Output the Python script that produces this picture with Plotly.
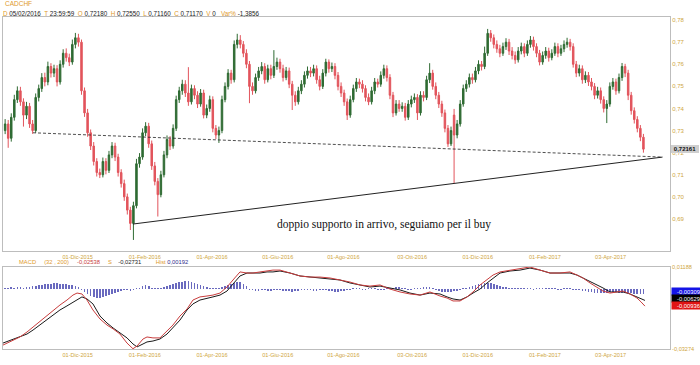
import plotly.graph_objects as go

# ---------------- DATA (CADCHF, 2-trading-day candles, x = trading-day index from 01-Oct-2015) -------------
closes = [
    0.7330, 0.7265, 0.7360, 0.7440, 0.7480, 0.7430, 0.7370, 0.7410, 0.7330, 0.7300,
    0.7450, 0.7490, 0.7540, 0.7520, 0.7590, 0.7560, 0.7580, 0.7520, 0.7600, 0.7650,
    0.7630, 0.7610, 0.7690, 0.7720, 0.7700, 0.7480, 0.7380, 0.7290, 0.7230, 0.7160,
    0.7110, 0.7100, 0.7160, 0.7120, 0.7190, 0.7230, 0.7180, 0.7110, 0.7060, 0.7000,
    0.6940, 0.6880, 0.6960, 0.7150, 0.7180, 0.7290, 0.7320, 0.7240, 0.7140, 0.7070,
    0.7010, 0.7100, 0.7190, 0.7260, 0.7230, 0.7310, 0.7440, 0.7480, 0.7510, 0.7470,
    0.7430, 0.7490, 0.7460, 0.7420, 0.7470, 0.7370, 0.7400, 0.7440, 0.7310, 0.7280,
    0.7300, 0.7440, 0.7500, 0.7560, 0.7530, 0.7690, 0.7710, 0.7690, 0.7650, 0.7600,
    0.7500, 0.7480, 0.7540, 0.7570, 0.7590, 0.7530, 0.7580, 0.7550, 0.7590, 0.7610,
    0.7580, 0.7540, 0.7570, 0.7510, 0.7460, 0.7430, 0.7480, 0.7510, 0.7550, 0.7570,
    0.7560, 0.7580, 0.7530, 0.7500, 0.7560, 0.7610, 0.7580, 0.7590, 0.7550, 0.7500,
    0.7470, 0.7430, 0.7370, 0.7440, 0.7490, 0.7520, 0.7510, 0.7490, 0.7450, 0.7430,
    0.7480, 0.7520, 0.7510, 0.7550, 0.7580, 0.7540, 0.7460, 0.7380, 0.7420, 0.7400,
    0.7410, 0.7360, 0.7420, 0.7440, 0.7450, 0.7380, 0.7460, 0.7450, 0.7530, 0.7560,
    0.7500, 0.7460, 0.7420, 0.7380, 0.7310, 0.7240, 0.7300, 0.7280, 0.7330, 0.7420,
    0.7490, 0.7510, 0.7540, 0.7530, 0.7570, 0.7600, 0.7590, 0.7650, 0.7740, 0.7720,
    0.7690, 0.7670, 0.7650, 0.7680, 0.7700, 0.7660, 0.7640, 0.7620, 0.7660, 0.7680,
    0.7650, 0.7690, 0.7710, 0.7680, 0.7650, 0.7610, 0.7640, 0.7660, 0.7630, 0.7650,
    0.7680, 0.7650, 0.7670, 0.7690, 0.7700, 0.7680, 0.7600, 0.7560, 0.7580, 0.7530,
    0.7550, 0.7520, 0.7500, 0.7460, 0.7480, 0.7440, 0.7400, 0.7420, 0.7500, 0.7520,
    0.7480, 0.7540, 0.7590, 0.7560, 0.7460, 0.7390, 0.7350, 0.7310, 0.7270, 0.7216,
]
opens = [
    0.7300, 0.7330, 0.7265, 0.7360, 0.7440, 0.7480, 0.7430, 0.7370, 0.7410, 0.7330,
    0.7300, 0.7450, 0.7490, 0.7540, 0.7520, 0.7590, 0.7560, 0.7580, 0.7520, 0.7600,
    0.7650, 0.7630, 0.7610, 0.7690, 0.7720, 0.7700, 0.7480, 0.7380, 0.7290, 0.7230,
    0.7160, 0.7110, 0.7100, 0.7160, 0.7120, 0.7190, 0.7230, 0.7180, 0.7110, 0.7060,
    0.7000, 0.6940, 0.6880, 0.6960, 0.7150, 0.7180, 0.7290, 0.7320, 0.7240, 0.7140,
    0.7070, 0.7010, 0.7100, 0.7190, 0.7260, 0.7230, 0.7310, 0.7440, 0.7480, 0.7510,
    0.7470, 0.7430, 0.7490, 0.7460, 0.7420, 0.7470, 0.7370, 0.7400, 0.7440, 0.7310,
    0.7280, 0.7300, 0.7440, 0.7500, 0.7560, 0.7530, 0.7690, 0.7710, 0.7690, 0.7650,
    0.7600, 0.7500, 0.7480, 0.7540, 0.7570, 0.7590, 0.7530, 0.7580, 0.7550, 0.7590,
    0.7610, 0.7580, 0.7540, 0.7570, 0.7510, 0.7460, 0.7430, 0.7480, 0.7510, 0.7550,
    0.7570, 0.7560, 0.7580, 0.7530, 0.7500, 0.7560, 0.7610, 0.7580, 0.7590, 0.7550,
    0.7500, 0.7470, 0.7430, 0.7370, 0.7440, 0.7490, 0.7520, 0.7510, 0.7490, 0.7450,
    0.7430, 0.7480, 0.7520, 0.7510, 0.7550, 0.7580, 0.7540, 0.7460, 0.7380, 0.7420,
    0.7400, 0.7410, 0.7360, 0.7420, 0.7440, 0.7450, 0.7380, 0.7460, 0.7450, 0.7530,
    0.7560, 0.7500, 0.7460, 0.7420, 0.7380, 0.7310, 0.7240, 0.7370, 0.7280, 0.7330,
    0.7420, 0.7490, 0.7510, 0.7540, 0.7530, 0.7570, 0.7600, 0.7590, 0.7650, 0.7740,
    0.7720, 0.7690, 0.7670, 0.7650, 0.7680, 0.7700, 0.7660, 0.7640, 0.7620, 0.7660,
    0.7680, 0.7650, 0.7690, 0.7710, 0.7680, 0.7650, 0.7610, 0.7640, 0.7660, 0.7630,
    0.7650, 0.7680, 0.7650, 0.7670, 0.7690, 0.7700, 0.7680, 0.7600, 0.7560, 0.7580,
    0.7530, 0.7550, 0.7520, 0.7500, 0.7460, 0.7480, 0.7440, 0.7400, 0.7420, 0.7500,
    0.7520, 0.7480, 0.7540, 0.7590, 0.7560, 0.7460, 0.7390, 0.7350, 0.7310, 0.7270,
]
highs = [
    0.7352, 0.7348, 0.7378, 0.7462, 0.7500, 0.7498, 0.7446, 0.7430, 0.7425, 0.7348,
    0.7468, 0.7508, 0.7560, 0.7562, 0.7612, 0.7605, 0.7598, 0.7596, 0.7618, 0.7668,
    0.7672, 0.7648, 0.7712, 0.7742, 0.7738, 0.7712, 0.7495, 0.7398, 0.7305, 0.7248,
    0.7175, 0.7128, 0.7178, 0.7175, 0.7208, 0.7248, 0.7245, 0.7195, 0.7125, 0.7078,
    0.7015, 0.6955, 0.6978, 0.7172, 0.7198, 0.7310, 0.7338, 0.7335, 0.7255, 0.7158,
    0.7085, 0.7118, 0.7208, 0.7278, 0.7275, 0.7328, 0.7458, 0.7498, 0.7530, 0.7528,
    0.7587, 0.7508, 0.7505, 0.7478, 0.7488, 0.7485, 0.7418, 0.7458, 0.7455, 0.7325,
    0.7318, 0.7458, 0.7518, 0.7578, 0.7575, 0.7708, 0.7738, 0.7732, 0.7705, 0.7668,
    0.7615, 0.7518, 0.7558, 0.7588, 0.7610, 0.7605, 0.7598, 0.7598, 0.7664, 0.7630,
    0.7625, 0.7598, 0.7588, 0.7585, 0.7525, 0.7478, 0.7498, 0.7528, 0.7568, 0.7590,
    0.7588, 0.7598, 0.7595, 0.7548, 0.7578, 0.7625, 0.7622, 0.7608, 0.7605, 0.7565,
    0.7518, 0.7485, 0.7445, 0.7458, 0.7508, 0.7538, 0.7535, 0.7528, 0.7505, 0.7468,
    0.7498, 0.7538, 0.7535, 0.7568, 0.7598, 0.7595, 0.7555, 0.7475, 0.7438, 0.7438,
    0.7428, 0.7425, 0.7438, 0.7458, 0.7468, 0.7465, 0.7478, 0.7478, 0.7548, 0.7605,
    0.7575, 0.7518, 0.7475, 0.7435, 0.7395, 0.7325, 0.7318, 0.7398, 0.7348, 0.7438,
    0.7508, 0.7528, 0.7558, 0.7558, 0.7588, 0.7618, 0.7615, 0.7680, 0.7760, 0.7755,
    0.7735, 0.7708, 0.7688, 0.7698, 0.7718, 0.7715, 0.7678, 0.7658, 0.7678, 0.7698,
    0.7695, 0.7708, 0.7728, 0.7725, 0.7695, 0.7665, 0.7658, 0.7678, 0.7675, 0.7668,
    0.7698, 0.7695, 0.7688, 0.7708, 0.7720, 0.7715, 0.7695, 0.7615, 0.7598, 0.7595,
    0.7568, 0.7565, 0.7538, 0.7515, 0.7498, 0.7495, 0.7455, 0.7438, 0.7518, 0.7538,
    0.7535, 0.7558, 0.7606, 0.7602, 0.7575, 0.7475, 0.7405, 0.7365, 0.7325, 0.7285,
]
lows = [
    0.7284, 0.7222, 0.7250, 0.7345, 0.7425, 0.7412, 0.7318, 0.7352, 0.7312, 0.7285,
    0.7290, 0.7432, 0.7475, 0.7500, 0.7505, 0.7540, 0.7542, 0.7500, 0.7508, 0.7585,
    0.7612, 0.7592, 0.7598, 0.7672, 0.7680, 0.7462, 0.7362, 0.7272, 0.7212, 0.7142,
    0.7092, 0.7085, 0.7088, 0.7102, 0.7108, 0.7175, 0.7162, 0.7092, 0.7042, 0.6982,
    0.6920, 0.6850, 0.6805, 0.6948, 0.7132, 0.7168, 0.7275, 0.7222, 0.7122, 0.7052,
    0.6911, 0.6998, 0.7088, 0.7175, 0.7212, 0.7218, 0.7298, 0.7425, 0.7462, 0.7452,
    0.7412, 0.7418, 0.7442, 0.7402, 0.7408, 0.7355, 0.7356, 0.7385, 0.7292, 0.7262,
    0.7244, 0.7288, 0.7428, 0.7486, 0.7512, 0.7518, 0.7672, 0.7672, 0.7632, 0.7582,
    0.7424, 0.7462, 0.7468, 0.7525, 0.7555, 0.7512, 0.7518, 0.7532, 0.7538, 0.7575,
    0.7562, 0.7522, 0.7528, 0.7492, 0.7393, 0.7412, 0.7418, 0.7465, 0.7495, 0.7535,
    0.7542, 0.7545, 0.7512, 0.7482, 0.7488, 0.7545, 0.7562, 0.7565, 0.7532, 0.7482,
    0.7452, 0.7412, 0.7348, 0.7358, 0.7428, 0.7475, 0.7492, 0.7472, 0.7432, 0.7415,
    0.7418, 0.7465, 0.7495, 0.7498, 0.7535, 0.7522, 0.7442, 0.7361, 0.7368, 0.7385,
    0.7385, 0.7345, 0.7348, 0.7405, 0.7425, 0.7348, 0.7368, 0.7432, 0.7438, 0.7515,
    0.7485, 0.7442, 0.7402, 0.7362, 0.7292, 0.7226, 0.7230, 0.7062, 0.7265, 0.7318,
    0.7408, 0.7475, 0.7495, 0.7512, 0.7518, 0.7555, 0.7572, 0.7578, 0.7638, 0.7702,
    0.7672, 0.7652, 0.7632, 0.7638, 0.7665, 0.7642, 0.7622, 0.7602, 0.7608, 0.7645,
    0.7632, 0.7638, 0.7675, 0.7662, 0.7632, 0.7595, 0.7598, 0.7625, 0.7612, 0.7618,
    0.7638, 0.7632, 0.7638, 0.7655, 0.7675, 0.7662, 0.7585, 0.7542, 0.7545, 0.7512,
    0.7515, 0.7502, 0.7482, 0.7442, 0.7445, 0.7422, 0.7382, 0.7334, 0.7408, 0.7485,
    0.7462, 0.7468, 0.7525, 0.7542, 0.7438, 0.7372, 0.7332, 0.7292, 0.7252, 0.7200,
]

# MACD histogram, one bar per candle
hist = [
    0.0005, 0.0005, 0.0011, 0.0005, 0.0011, 0.0011, 0.0005, 0.0011,
    0.0011, 0.0016, 0.0016, 0.0022, 0.0022, 0.0027, 0.0027, 0.0027, 0.0033, 0.0033,
    0.0027, 0.0027, 0.0027, 0.0022, 0.0022, 0.0016, 0.0011,
    -0.0005, -0.0016, -0.0027, -0.0038, -0.0044, -0.0049, -0.0049, -0.0044, -0.0038,
    -0.0033, -0.0027, -0.0022, -0.0016,
    -0.0011, -0.0005, -0.0005, -0.0011, -0.0005, 0.0003, 0.0005,
    0.0016, 0.0022, 0.0016,
    0.0005, 0.0003, 0.0005, 0.0005, 0.0011,
    0.0016, 0.0022, 0.0027, 0.0033, 0.0038, 0.0038, 0.0044, 0.0044, 0.0038, 0.0033,
    0.0027, 0.0022, 0.0016, 0.0011,
    0.0005, 0.0005, 0.0003, 0.0005, 0.0011, 0.0016,
    0.0022, 0.0027, 0.0033, 0.0038, 0.0038, 0.0027, 0.0016,
    -0.0005, -0.0005, -0.0011, -0.0011, -0.0005, -0.0005, -0.0011, -0.0011, -0.0005, -0.0005,
    -0.0005, -0.0011, -0.0011, -0.0011, -0.0016, -0.0011, -0.0011, -0.0005, -0.0005, -0.0005,
    -0.0005, -0.0011, -0.0011, -0.0005, -0.0005, -0.0005, -0.0011, -0.0011, -0.0016, -0.0016,
    -0.0011, -0.0011, -0.0005, -0.0005,
    0.0005, 0.0005, 0.0003, -0.0005, -0.0005, 0.0005, 0.0005, 0.0003, -0.0005, -0.0005,
    -0.0005, 0.0003, 0.0005, 0.0005, 0.0011, 0.0011, 0.0005, 0.0003, -0.0005, -0.0005,
    0.0003, 0.0005, 0.0005, 0.0011, 0.0011,
    0.0011, 0.0005,
    -0.0005, -0.0011, -0.0016, -0.0016, -0.0016, -0.0016, -0.0011, -0.0011, -0.0005, 0.0003,
    0.0005, 0.0011, 0.0016, 0.0022, 0.0027, 0.0027, 0.0033, 0.0033, 0.0033, 0.0027,
    0.0022, 0.0016, 0.0011, 0.0011, 0.0005, 0.0005,
    0.0005, 0.0003, 0.0005, 0.0005, 0.0003, 0.0003, -0.0005, 0.0003, 0.0005, 0.0005,
    0.0003, 0.0003, 0.0005, 0.0003, -0.0005, -0.0005, 0.0003, 0.0005, 0.0003, -0.0005,
    -0.0005, -0.0005, -0.0011,
    -0.0011, -0.0016, -0.0016, -0.0022, -0.0022, -0.0022, -0.0022, -0.0022, -0.0016, -0.0016,
    -0.0016, -0.0022, -0.0022, -0.0022, -0.0022, -0.0022, -0.0027, -0.0027, -0.0027, -0.0027,
]

# MACD lines (trading-day index, value)
macd_x = [
    -5.9, 0.0, 5.2, 9.8, 13.8, 18.3, 22.9, 27.5, 31.4, 36.0, 39.9, 42.6, 45.8, 49.1, 53.0,
    57.6, 62.2, 66.2, 70.7, 75.3, 79.2, 81.9, 85.8, 88.4, 92.3, 96.9, 101.5, 105.4, 110.0,
    114.6, 118.5, 123.1, 127.7, 131.6, 136.2, 140.8, 144.7, 149.3, 153.9, 157.8, 162.4,
    167.0, 170.9, 175.5, 182.1, 188.6, 195.2, 201.7, 208.3, 214.8, 221.3, 227.9, 234.4,
    241.0, 247.5, 254.1, 260.6, 267.2, 273.7, 280.3, 284.9, 288.8, 293.4, 298.0, 301.9,
    306.5, 311.1, 315.0, 319.6, 326.1, 332.7, 339.2, 345.8, 352.3, 358.9, 365.4, 370.0,
    373.9, 378.5, 383.1, 387.0, 391.6, 396.2, 400.1, 404.7, 409.3, 411.9, 414.5,
]
macd_black = [
    -0.0295, -0.0278, -0.0262, -0.0246, -0.0224, -0.0197, -0.0170, -0.0142, -0.0115, -0.0093,
    -0.0072, -0.0061, -0.0044, -0.0055, -0.0082, -0.0148, -0.0186, -0.0213, -0.0240, -0.0267,
    -0.0300, -0.0316, -0.0300, -0.0289, -0.0284, -0.0273, -0.0246, -0.0213, -0.0170, -0.0115,
    -0.0082, -0.0061, -0.0050, -0.0044, -0.0034, -0.0012, 0.0026, 0.0070, 0.0086, 0.0086,
    0.0086, 0.0092, 0.0092, 0.0097, 0.0086, 0.0070, 0.0064, 0.0059, 0.0053, 0.0048,
    0.0032, 0.0021, 0.0010, 0.0015, 0.0005, -0.0006, -0.0023, -0.0034, -0.0023, -0.0028,
    -0.0044, -0.0055, -0.0061, -0.0044, -0.0023, -0.0001, 0.0032, 0.0059, 0.0086, 0.0097,
    0.0102, 0.0113, 0.0102, 0.0086, 0.0086, 0.0086, 0.0075, 0.0059, 0.0043, 0.0021,
    0.0005, -0.0017, -0.0017, -0.0017, -0.0028, -0.0044, -0.0055, -0.0063,
]
macd_red = [
    -0.0306, -0.0284, -0.0262, -0.0235, -0.0208, -0.0175, -0.0142, -0.0115, -0.0088, -0.0061,
    -0.0034, -0.0023, -0.0028, -0.0061, -0.0115, -0.0164, -0.0197, -0.0218, -0.0246, -0.0295,
    -0.0326, -0.0311, -0.0273, -0.0262, -0.0267, -0.0267, -0.0229, -0.0197, -0.0148, -0.0110,
    -0.0061, -0.0044, -0.0039, -0.0034, -0.0023, 0.0010, 0.0048, 0.0092, 0.0086, 0.0086,
    0.0092, 0.0097, 0.0102, 0.0102, 0.0086, 0.0070, 0.0064, 0.0064, 0.0059, 0.0048,
    0.0037, 0.0021, 0.0015, 0.0021, -0.0001, -0.0017, -0.0028, -0.0034, -0.0017, -0.0039,
    -0.0050, -0.0066, -0.0066, -0.0044, -0.0017, 0.0021, 0.0053, 0.0075, 0.0092, 0.0102,
    0.0108, 0.0119, 0.0102, 0.0086, 0.0086, 0.0092, 0.0075, 0.0059, 0.0032, 0.0010,
    -0.0012, -0.0023, -0.0017, -0.0012, -0.0028, -0.0050, -0.0071, -0.0094,
]

# support lines drawn on the chart (trading-day index, price)
dashed_support_x = [13.75, 426.0]
dashed_support_y = [0.7290, 0.7180]
solid_support_x = [79.2, 426.0]
solid_support_y = [0.6877, 0.7180]

tick_idx = [0, 43, 87, 131, 174, 217, 262, 305, 349, 392]
tick_text = ["01-Ott-2015", "01-Dic-2015", "01-Feb-2016", "01-Apr-2016", "01-Giu-2016",
             "01-Ago-2016", "03-Ott-2016", "01-Dic-2016", "01-Feb-2017", "03-Apr-2017"]
price_ticks = [0.69, 0.70, 0.71, 0.72, 0.73, 0.74, 0.75, 0.76, 0.77, 0.78]
last_price = 0.72161

# each 2-day candle sits at the middle of its two trading days
candle_x = [-4.5 + 2 * k for k in range(len(closes))]

# ---------------- FIGURE ----------------
W, H = 700, 365
ML, MR, MT, MB = 3, 30, 17, 16


def px_x(px):
    return (px - ML) / (W - ML - MR)


def px_y(py):
    return (H - MB - py) / (H - MT - MB)


GOLD = "#cfa63e"
ORANGE = "#e09a2c"
BORDER = "#bdbdbd"
FONT = "Liberation Sans, Arial, sans-serif"

fig = go.Figure()

fig.add_trace(go.Candlestick(
    x=candle_x, open=opens, high=highs, low=lows, close=closes,
    increasing=dict(line=dict(color="#2f6b33", width=1), fillcolor="#2f6b33"),
    decreasing=dict(line=dict(color="#e2545c", width=1), fillcolor="#e2545c"),
    whiskerwidth=0, xaxis="x", yaxis="y", showlegend=False, hoverinfo="skip",
))
fig.add_trace(go.Scatter(x=dashed_support_x, y=dashed_support_y, mode="lines",
                         line=dict(color="#222222", width=0.8, dash="3px,2px"),
                         xaxis="x", yaxis="y", showlegend=False, hoverinfo="skip"))
fig.add_trace(go.Scatter(x=solid_support_x, y=solid_support_y, mode="lines",
                         line=dict(color="#222222", width=1),
                         xaxis="x", yaxis="y", showlegend=False, hoverinfo="skip"))

fig.add_trace(go.Bar(x=candle_x, y=hist, width=1.1, marker=dict(color="#6a6abf", line=dict(width=0)),
                     xaxis="x2", yaxis="y2", showlegend=False, hoverinfo="skip"))
fig.add_trace(go.Scatter(x=macd_x, y=macd_black, mode="lines", line=dict(color="#1a1a1a", width=1),
                         xaxis="x2", yaxis="y2", showlegend=False, hoverinfo="skip"))
fig.add_trace(go.Scatter(x=macd_x, y=macd_red, mode="lines", line=dict(color="#c83c3c", width=1),
                         xaxis="x2", yaxis="y2", showlegend=False, hoverinfo="skip"))

main_bottom = px_y(251)
macd_top = px_y(267)

axis_common = dict(showgrid=False, zeroline=False, showline=True, mirror=True,
                   linecolor=BORDER, linewidth=1, ticks="")

fig.update_layout(
    width=W, height=H,
    margin=dict(l=ML, r=MR, t=MT, b=MB, autoexpand=False),
    paper_bgcolor="white", plot_bgcolor="white",
    separators=",.",
    font=dict(family=FONT, size=6, color=GOLD),
    showlegend=False,
    bargap=0,
    xaxis=dict(domain=[0, 1], range=[-5.9, 430.9], anchor="y",
               tickvals=tick_idx, ticktext=tick_text, tickfont=dict(size=5.6, color=GOLD),
               rangeslider=dict(visible=False), **axis_common),
    yaxis=dict(domain=[main_bottom, 1], range=[0.6755, 0.7814], side="right", anchor="x",
               tickvals=price_ticks, tickformat=".2f", tickfont=dict(size=6, color=GOLD),
               **axis_common),
    xaxis2=dict(domain=[0, 1], range=[-5.9, 430.9], anchor="y2", matches="x",
                tickvals=tick_idx, ticktext=tick_text, tickfont=dict(size=5.6, color=GOLD),
                **axis_common),
    yaxis2=dict(domain=[0, macd_top], range=[-0.03274, 0.01188], side="right", anchor="x2",
                tickvals=[0.01186, -0.03272], ticktext=["0,01188", "-0,03274"],
                tickfont=dict(size=5.6, color=GOLD), **axis_common),
)


def lab(t):
    return "<span style='color:%s'>%s</span>" % (ORANGE, t)


info = (lab("D") + " 05/02/2016 &nbsp;" + lab("T") + " 23:59:59 &nbsp;" + lab("O") + " 0,72180 &nbsp;"
        + lab("H") + " 0,72550 &nbsp;" + lab("L") + " 0,71160 &nbsp;" + lab("C") + " 0,71170 &nbsp;"
        + lab("V") + " 0 &nbsp;&nbsp;" + lab("Var%") + " -1,3856")

macd_lbl = (lab("MACD") + " &nbsp;&nbsp;&nbsp; " + lab("(32 , 200)") + " &nbsp;&nbsp;&nbsp; "
            + "<span style='color:#c83c3c'>-0,02538</span> &nbsp;&nbsp;&nbsp; " + lab("S")
            + " &nbsp;&nbsp; -0,02731 &nbsp;&nbsp;&nbsp;&nbsp;&nbsp;&nbsp;&nbsp; " + lab("Hist")
            + " <span style='color:#2c2c8c'>0,00192</span>")

annotations = [
    dict(x=px_x(3), y=px_y(4), xref="paper", yref="paper", text="CADCHF", showarrow=False,
         xanchor="left", yanchor="middle", font=dict(family=FONT, size=6.5, color=ORANGE)),
    dict(x=px_x(1), y=px_y(13), xref="paper", yref="paper", text=info, showarrow=False,
         xanchor="left", yanchor="middle", font=dict(family=FONT, size=6.3, color="#222222")),
    dict(x=px_x(384), y=px_y(224), xref="paper", yref="paper",
         text="doppio supporto in arrivo, seguiamo per il buy", showarrow=False,
         xanchor="center", yanchor="middle",
         font=dict(family="Liberation Serif, Times New Roman, serif", size=11.5, color="#111111")),
    dict(x=1.0, y=last_price, xref="paper", yref="y", text="<b>0,72161</b>", showarrow=False,
         xanchor="left", yanchor="middle", xshift=1, bgcolor="#cfcfcf", bordercolor="#9a9a9a",
         borderwidth=0, borderpad=1, width=26,
         font=dict(family=FONT, size=6, color="#111111")),
    dict(x=px_x(17), y=px_y(261.5), xref="paper", yref="paper", text=macd_lbl, showarrow=False,
         xanchor="left", yanchor="middle", font=dict(family=FONT, size=5.8, color="#222222")),
]
for txt, py, bg in [("-0,00309", 291, "#1414e6"), ("-0,00629", 298, "#000000"), ("-0,00936", 305, "#e01414")]:
    annotations.append(dict(x=1.0, y=px_y(py), xref="paper", yref="paper", text=txt, showarrow=False,
                            xanchor="left", yanchor="middle", xshift=1, bgcolor=bg, borderpad=0,
                            width=28, height=7, align="right",
                            font=dict(family=FONT, size=5.8, color="#ffffff")))
fig.update_layout(annotations=annotations)

# the page body has a default 8px margin in the browser; remove it so the figure fills the window
fig.write_html("out.html", config={"displayModeBar": False, "staticPlot": True},
               post_script="document.body.style.margin='0px';")
